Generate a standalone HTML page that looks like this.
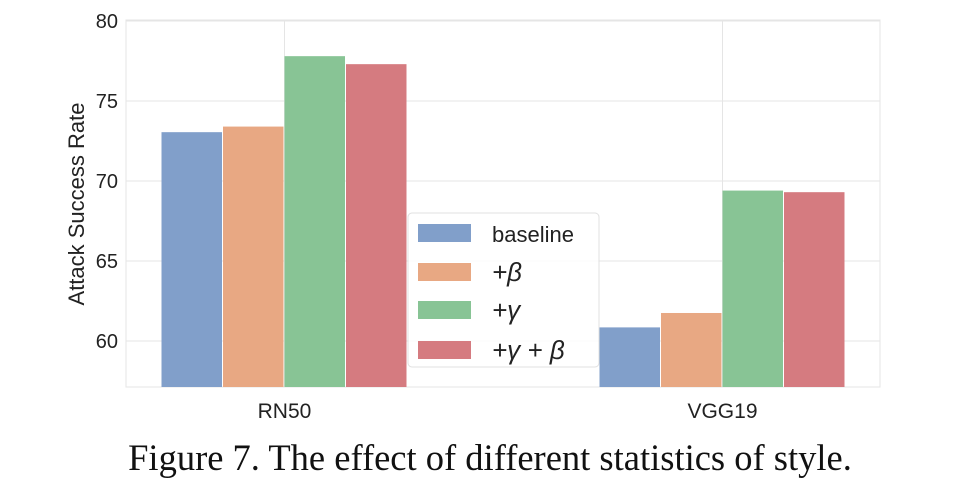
<!DOCTYPE html>
<html><head><meta charset="utf-8"><style>
body{margin:0;background:#fff;width:969px;height:491px;overflow:hidden;font-family:"Liberation Sans",sans-serif}
</style></head><body>
<svg width="969" height="491" viewBox="0 0 969 491" xmlns="http://www.w3.org/2000/svg">
<rect x="126" y="20" width="754" height="367" fill="#fff" stroke="#e5e5e5"/>
<g id="grid"></g>
<g id="bars"></g>
<g id="axes"></g>
<text x="84" y="204" transform="rotate(-90 84 204)" text-anchor="middle" font-size="22" fill="#222">Attack Success Rate</text>
<g>
<rect x="408" y="213" width="191" height="154" rx="4" fill="#fff" fill-opacity="0.85" stroke="#e0e0e0"/>
<g id="legend"></g>
</g>
<text x="490" y="470" text-anchor="middle" font-family="Liberation Serif,serif" font-size="36.5" fill="#111">Figure 7. The effect of different statistics of style.</text>
</svg>
<script>
const categories=["RN50","VGG19"];
const seriesNames=["baseline","+β","+γ","+γ + β"];
const baseline=[73.05,60.85];
const plusBeta=[73.4,61.75];
const plusGamma=[77.8,69.4];
const plusGammaBeta=[77.3,69.3];
const yTicks=[60,65,70,75,80];
const series=[baseline,plusBeta,plusGamma,plusGammaBeta];
const colors=["#819fca","#e8a883","#88c495","#d57b80"];
const NS="http://www.w3.org/2000/svg";
const yMin=57.125,yMax=80.06,plotTop=20,plotBot=387;
function y(v){return plotBot-(v-yMin)/(yMax-yMin)*(plotBot-plotTop);}
const centers=[284.5,722.5];
function x(ci){return centers[ci];}
const bw=61.5;
function mk(tag,at,parent){const e=document.createElementNS(NS,tag);for(const k in at)e.setAttribute(k,at[k]);document.getElementById(parent).appendChild(e);return e;}
yTicks.forEach(t=>{
 const l=mk("line",{x1:126,x2:880,y1:y(t),y2:y(t),stroke:"#e5e5e5"},"grid");
 
 
 const tx=mk("text",{x:118,y:y(t)+7,"text-anchor":"end","font-size":20,fill:"#222"},"axes");
 tx.textContent=t;
 
 
});
categories.forEach((c,ci)=>{
 const l=mk("line",{x1:x(ci),x2:x(ci),y1:plotTop,y2:plotBot,stroke:"#e5e5e5"},"grid");
 
 
 const tx=mk("text",{x:x(ci),y:418,"text-anchor":"middle","font-size":21,fill:"#222"},"axes");
 tx.textContent=c;
 
 
 series.forEach((s,si)=>{
  const bx=x(ci)+(si-2)*bw;
  const r=mk("rect",{x:bx,y:y(s[ci]),width:bw-1,height:plotBot-y(s[ci]),fill:colors[si]},"bars");
  
  
 });
});
seriesNames.forEach((n,i)=>{
 const yy=[224,263,301,341][i];
 const r=mk("rect",{x:418,y:yy,width:53,height:18,fill:colors[i]},"legend");
 
 
 const t=mk("text",{x:492,y:yy+18,"font-size":i?26:22,fill:"#222","font-style":i?"italic":"normal"},"legend");
 t.textContent=n;
 
 
});
</script>
</body></html>
